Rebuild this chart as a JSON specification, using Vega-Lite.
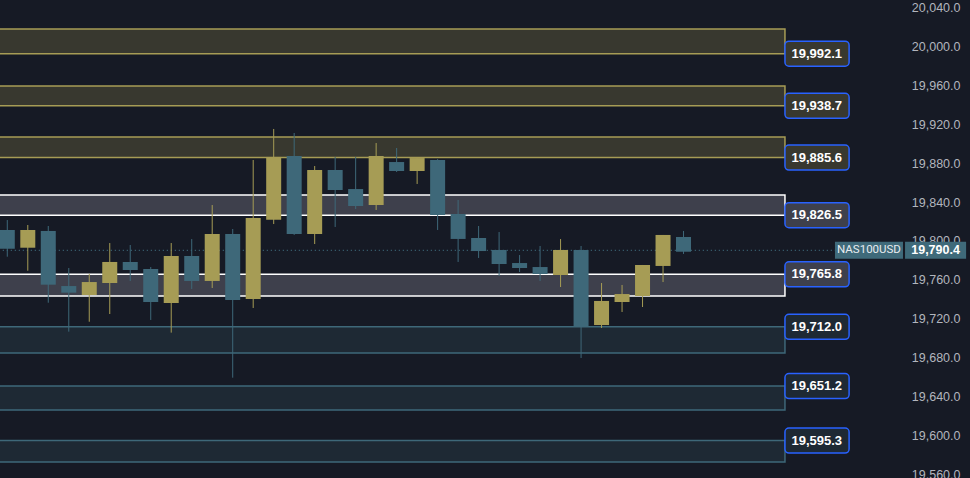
{
  "$schema": "https://vega.github.io/schema/vega-lite/v6.json",
  "width": 970,
  "height": 478,
  "padding": 0,
  "autosize": {"type": "none"},
  "background": "#161a25",
  "config": {
    "view": {"stroke": null},
    "axis": {"ticks": false, "domain": false, "grid": false, "labelPadding": -10, "labelAlign": "right",
      "labelColor": "#b2b5be", "labelFontSize": 12.5, "labelFont": "Liberation Sans", "labelOverlap": false, "labelFlush": false, "title": null, "labelBound": false, "format": ",.1f"}
  },
  "datasets": {
    "candles": [
      {"i": 0, "o": 19811.3, "h": 19821.5, "l": 19783.9, "c": 19792.1},
      {"i": 1, "o": 19793.1, "h": 19816.4, "l": 19769.5, "c": 19811.3},
      {"i": 2, "o": 19810.3, "h": 19815.4, "l": 19736.7, "c": 19755.2},
      {"i": 3, "o": 19753.8, "h": 19772.3, "l": 19707.0, "c": 19747.0},
      {"i": 4, "o": 19744.6, "h": 19766.2, "l": 19717.2, "c": 19757.9},
      {"i": 5, "o": 19756.9, "h": 19797.9, "l": 19725.1, "c": 19778.5},
      {"i": 6, "o": 19778.5, "h": 19795.9, "l": 19759.0, "c": 19770.3},
      {"i": 7, "o": 19771.3, "h": 19773.3, "l": 19719.0, "c": 19737.4},
      {"i": 8, "o": 19736.4, "h": 19797.9, "l": 19706.0, "c": 19784.6},
      {"i": 9, "o": 19784.6, "h": 19802.0, "l": 19750.8, "c": 19759.0},
      {"i": 10, "o": 19759.0, "h": 19836.9, "l": 19751.8, "c": 19807.2},
      {"i": 11, "o": 19807.2, "h": 19812.3, "l": 19659.8, "c": 19739.5},
      {"i": 12, "o": 19740.5, "h": 19883.1, "l": 19731.3, "c": 19823.6},
      {"i": 13, "o": 19821.8, "h": 19914.9, "l": 19817.4, "c": 19886.2},
      {"i": 14, "o": 19887.2, "h": 19910.8, "l": 19806.2, "c": 19807.2},
      {"i": 15, "o": 19807.2, "h": 19876.9, "l": 19796.9, "c": 19872.8},
      {"i": 16, "o": 19872.8, "h": 19886.2, "l": 19814.4, "c": 19852.3},
      {"i": 17, "o": 19853.3, "h": 19886.2, "l": 19832.8, "c": 19835.9},
      {"i": 18, "o": 19836.9, "h": 19900.5, "l": 19831.8, "c": 19887.2},
      {"i": 19, "o": 19881.0, "h": 19895.4, "l": 19870.8, "c": 19871.8},
      {"i": 20, "o": 19871.8, "h": 19885.1, "l": 19858.5, "c": 19885.1},
      {"i": 21, "o": 19883.1, "h": 19884.0, "l": 19811.3, "c": 19826.7},
      {"i": 22, "o": 19827.7, "h": 19842.1, "l": 19778.5, "c": 19802.1},
      {"i": 23, "o": 19803.1, "h": 19815.4, "l": 19782.6, "c": 19789.7},
      {"i": 24, "o": 19790.8, "h": 19809.2, "l": 19764.1, "c": 19776.4},
      {"i": 25, "o": 19777.4, "h": 19785.6, "l": 19768.2, "c": 19772.3},
      {"i": 26, "o": 19773.3, "h": 19794.9, "l": 19759.0, "c": 19766.2},
      {"i": 27, "o": 19765.1, "h": 19802.0, "l": 19752.8, "c": 19790.8},
      {"i": 28, "o": 19790.8, "h": 19794.9, "l": 19680.0, "c": 19711.8},
      {"i": 29, "o": 19713.8, "h": 19756.9, "l": 19710.8, "c": 19738.5},
      {"i": 30, "o": 19737.4, "h": 19754.9, "l": 19727.2, "c": 19745.6},
      {"i": 31, "o": 19743.6, "h": 19775.4, "l": 19732.3, "c": 19775.4},
      {"i": 32, "o": 19774.4, "h": 19806.2, "l": 19757.9, "c": 19806.2},
      {"i": 33, "o": 19804.1, "h": 19810.3, "l": 19786.7, "c": 19789.0}
    ],
    "zones": [
      {"level": 19992.1, "far": 20017.4, "kind": "gold"},
      {"level": 19938.7, "far": 19959.0, "kind": "gold"},
      {"level": 19885.6, "far": 19906.7, "kind": "gold"},
      {"level": 19826.5, "far": 19847.2, "kind": "white"},
      {"level": 19765.8, "far": 19743.6, "kind": "white"},
      {"level": 19712.0, "far": 19685.1, "kind": "teal"},
      {"level": 19651.2, "far": 19626.7, "kind": "teal"},
      {"level": 19595.3, "far": 19573.3, "kind": "teal"}
    ],
    "last": [{"price": 19790.4, "symbol": "NAS100USD"}]
  },
  "encoding": {
    "x": {"type": "quantitative", "scale": {"domain": [-0.356, 46.98], "nice": false, "zero": false, "padding": 0}, "axis": null},
    "y": {"type": "quantitative", "scale": {"domain": [19556.9, 20047.2], "nice": false, "zero": false, "padding": 0}}
  },
  "layer": [
    {
      "data": {"name": "zones"},
      "mark": {"type": "rect", "strokeWidth": 1.5, "clip": true},
      "encoding": {
        "x": {"datum": -1},
        "x2": {"datum": 37.95},
        "y": {"field": "level", "type": "quantitative", "axis": {"orient": "right", "values": [19560, 19600, 19640, 19680, 19720, 19760, 19800, 19840, 19880, 19920, 19960, 20000, 20040]}},
        "y2": {"field": "far"},
        "fill": {"field": "kind", "type": "nominal", "scale": {"domain": ["gold", "white", "teal"], "range": ["#38382f", "#3e404c", "#1e2934"]}, "legend": null},
        "stroke": {"field": "kind", "type": "nominal", "scale": {"domain": ["gold", "white", "teal"], "range": ["#a69c55", "#ffffff", "#3e6879"]}, "legend": null}
      }
    },
    {
      "data": {"name": "last"},
      "mark": {"type": "rule", "color": "#3e6879", "strokeDash": [1, 3], "strokeWidth": 1.2, "clip": true},
      "encoding": {
        "x": {"datum": -1},
        "x2": {"datum": 40.39},
        "y": {"field": "price", "type": "quantitative", "axis": {"orient": "right", "values": [19560, 19600, 19640, 19680, 19720, 19760, 19800, 19840, 19880, 19920, 19960, 20000, 20040]}}
      }
    },
    {
      "data": {"name": "candles"},
      "mark": {"type": "rule", "strokeWidth": 1},
      "encoding": {
        "x": {"field": "i", "type": "quantitative"},
        "y": {"field": "l", "type": "quantitative", "axis": {"orient": "right", "values": [19560, 19600, 19640, 19680, 19720, 19760, 19800, 19840, 19880, 19920, 19960, 20000, 20040]}},
        "y2": {"field": "h"},
        "color": {"condition": {"test": "datum.c >= datum.o", "value": "#a69c55"}, "value": "#3e6879"}
      }
    },
    {
      "data": {"name": "candles"},
      "mark": {"type": "bar", "size": 15, "orient": "vertical"},
      "encoding": {
        "x": {"field": "i", "type": "quantitative"},
        "y": {"field": "o", "type": "quantitative", "axis": {"orient": "right", "values": [19560, 19600, 19640, 19680, 19720, 19760, 19800, 19840, 19880, 19920, 19960, 20000, 20040]}},
        "y2": {"field": "c"},
        "color": {"condition": {"test": "datum.c >= datum.o", "value": "#a69c55"}, "value": "#3e6879"}
      }
    },
    {
      "data": {"name": "zones"},
      "mark": {"type": "bar", "orient": "horizontal", "size": 25, "cornerRadius": 4, "stroke": "#2962ff", "strokeWidth": 1.5},
      "encoding": {
        "x": {"datum": 37.95},
        "x2": {"datum": 41.08},
        "y": {"field": "level", "type": "quantitative", "axis": {"orient": "right", "values": [19560, 19600, 19640, 19680, 19720, 19760, 19800, 19840, 19880, 19920, 19960, 20000, 20040]}},
        "fill": {"field": "kind", "type": "nominal", "scale": {"domain": ["gold", "white", "teal"], "range": ["#a69d5a", "#000000", "#3f6a7a"]}, "legend": null}
      }
    },
    {
      "data": {"name": "zones"},
      "mark": {"type": "text", "color": "#ffffff", "fontWeight": "bold", "fontSize": 13, "font": "Liberation Sans", "align": "center", "baseline": "middle"},
      "encoding": {
        "x": {"datum": 39.5},
        "y": {"field": "level", "type": "quantitative", "axis": {"orient": "right", "values": [19560, 19600, 19640, 19680, 19720, 19760, 19800, 19840, 19880, 19920, 19960, 20000, 20040]}},
        "text": {"field": "level", "type": "quantitative", "format": ",.1f"}
      }
    },
    {
      "data": {"name": "last"},
      "mark": {"type": "bar", "orient": "horizontal", "size": 17, "fill": "#3f6a7a"},
      "encoding": {
        "x": {"datum": 40.39},
        "x2": {"datum": 43.71},
        "y": {"field": "price", "type": "quantitative", "axis": {"orient": "right", "values": [19560, 19600, 19640, 19680, 19720, 19760, 19800, 19840, 19880, 19920, 19960, 20000, 20040]}}
      }
    },
    {
      "data": {"name": "last"},
      "mark": {"type": "bar", "orient": "horizontal", "size": 17, "fill": "#3f6a7a"},
      "encoding": {
        "x": {"datum": 43.81},
        "x2": {"datum": 46.79},
        "y": {"field": "price", "type": "quantitative", "axis": {"orient": "right", "values": [19560, 19600, 19640, 19680, 19720, 19760, 19800, 19840, 19880, 19920, 19960, 20000, 20040]}}
      }
    },
    {
      "data": {"name": "last"},
      "mark": {"type": "text", "color": "#e8ecf0", "fontSize": 11.5, "font": "Roboto", "align": "center", "baseline": "middle"},
      "encoding": {
        "x": {"datum": 42.05},
        "y": {"field": "price", "type": "quantitative", "axis": {"orient": "right", "values": [19560, 19600, 19640, 19680, 19720, 19760, 19800, 19840, 19880, 19920, 19960, 20000, 20040]}},
        "text": {"field": "symbol"}
      }
    },
    {
      "data": {"name": "last"},
      "mark": {"type": "text", "color": "#ffffff", "fontSize": 12.5, "fontWeight": "bold", "font": "Liberation Sans", "align": "center", "baseline": "middle"},
      "encoding": {
        "x": {"datum": 45.3},
        "y": {"field": "price", "type": "quantitative", "axis": {"orient": "right", "values": [19560, 19600, 19640, 19680, 19720, 19760, 19800, 19840, 19880, 19920, 19960, 20000, 20040]}},
        "text": {"field": "price", "type": "quantitative", "format": ",.1f"}
      }
    }
  ]
}
